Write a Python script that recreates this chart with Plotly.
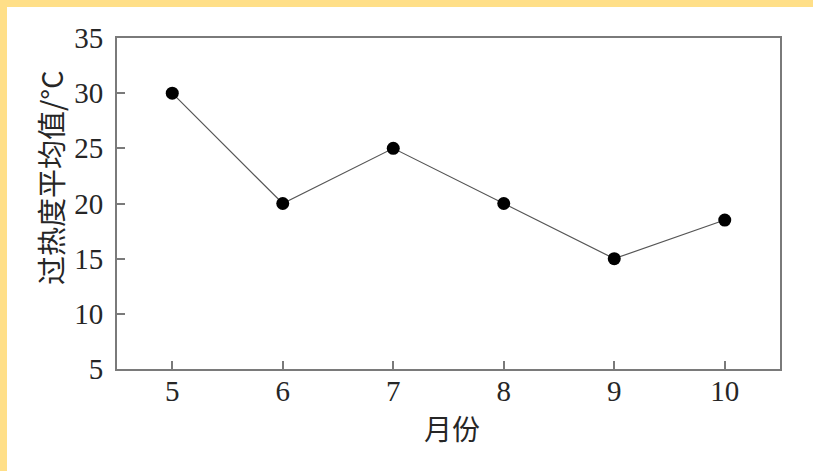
import plotly.graph_objects as go

months = [5, 6, 7, 8, 9, 10]
values = [30, 20, 25, 20, 15, 18.5]
x_ticks = [5, 6, 7, 8, 9, 10]
y_ticks = [5, 10, 15, 20, 25, 30, 35]
x_title = "月份"
y_title = "过热度平均值/°C"

W, H = 813, 471
ml, mr, mt, mb = 117, 33, 38, 102
pw, ph = W - ml - mr, H - mt - mb

fig = go.Figure()
fig.add_trace(go.Scatter(
    x=months, y=values, mode="lines+markers",
    line=dict(color="#555555", width=1.2),
    marker=dict(color="black", size=13),
    showlegend=False,
))

serif = "Liberation Serif, Times New Roman, serif"
cjk = "Noto Sans CJK SC"
txt = "#262626"
axis_common = dict(
    showline=True, linecolor="#7a7a7a", linewidth=2, mirror=True,
    ticks="inside", ticklen=8, tickcolor="#7a7a7a", tickwidth=1.5,
    showgrid=False, zeroline=False,
    tickfont=dict(family=serif, size=29, color=txt),
)
fig.update_xaxes(range=[4.5, 10.5], tickvals=x_ticks, ticklabelstandoff=-5, **axis_common)
fig.update_yaxes(range=[5, 35], tickvals=y_ticks, ticklabelstandoff=6, **axis_common)

fig.add_annotation(text=x_title, xref="paper", yref="paper",
                   x=(452 - ml) / pw, y=(ph + mt - 428) / ph,
                   xanchor="center", yanchor="middle", showarrow=False,
                   font=dict(family=cjk, size=28, color=txt))
fig.add_annotation(text=y_title, xref="paper", yref="paper",
                   x=(50 - ml) / pw, y=(ph + mt - 178) / ph, textangle=-90,
                   xanchor="center", yanchor="middle", showarrow=False,
                   font=dict(family=cjk, size=29, color=txt))

# yellow border strips (left and top)
fig.add_shape(type="rect", xref="paper", yref="paper",
              x0=-ml / pw, x1=-(ml - 7) / pw, y0=-mb / ph, y1=(ph + mt) / ph,
              fillcolor="#FFDF88", line=dict(width=0), layer="below")
fig.add_shape(type="rect", xref="paper", yref="paper",
              x0=-ml / pw, x1=(pw + mr) / pw, y0=(ph + mt - 7) / ph, y1=(ph + mt) / ph,
              fillcolor="#FFDF88", line=dict(width=0), layer="below")

fig.update_layout(
    width=W, height=H,
    margin=dict(l=ml, r=mr, t=mt, b=mb),
    paper_bgcolor="white", plot_bgcolor="white",
)
fig.write_html("out.html")
